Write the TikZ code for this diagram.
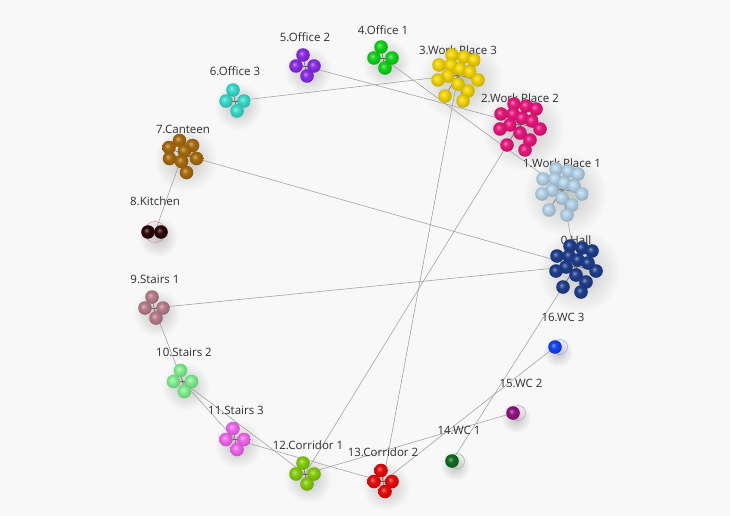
\documentclass[tikz,border=0pt]{standalone}
\usepackage{fontspec}
\setmainfont{Open Sans}
\usepackage{tikz}

\definecolor{bgc}{HTML}{F8F8F8}
\definecolor{hallc}{HTML}{1F3E8C}
\definecolor{wponec}{HTML}{B4D2E8}
\definecolor{wptwoc}{HTML}{E8177D}
\definecolor{wpthreec}{HTML}{F2D300}
\definecolor{officeonec}{HTML}{10D418}
\definecolor{officetwoc}{HTML}{8A2BE8}
\definecolor{officethreec}{HTML}{36DCCB}
\definecolor{canteenc}{HTML}{A86A0C}
\definecolor{kitchenc}{HTML}{2A0509}
\definecolor{stairsonec}{HTML}{B87C8A}
\definecolor{stairstwoc}{HTML}{7FF08E}
\definecolor{stairsthreec}{HTML}{F266EE}
\definecolor{corridoronec}{HTML}{84CC08}
\definecolor{corridortwoc}{HTML}{E80A0A}
\definecolor{wconec}{HTML}{0E6E22}
\definecolor{wctwoc}{HTML}{8E1282}
\definecolor{wcthreec}{HTML}{1442F5}
\colorlet{ballc}{red}
\pgfdeclareradialshading[ballc]{orb}{\pgfpoint{-7bp}{7bp}}{color(0bp)=(ballc!55!white); color(11bp)=(ballc); color(27bp)=(ballc!82!black); color(50bp)=(ballc!82!black)}

% ball offsets of the groups
\newcommand{\bigpat}{-6/-20,6/-18,16/-15,-19/-10,-7/-10,2/-6,12/-3,-10/1,-20/5,20/5,0/9,10/16,-13/21,5/26}
\newcommand{\canpat}{-3/-14,10/-9,-13.5/-7,2/-3.5,-13/4,14/4,-1/7,4/18}
\newcommand{\quadpat}{-2/-11,-9/0,9/0,2/10}
\newcommand{\halo}[2]{\shade[inner color=black!24,outer color=bgc] ([shift={(3,5)}]#1) circle (#2);}
\newcommand{\orb}[3]{\colorlet{ballc}{#2}\shade[shading=orb] (#1) circle (#3);}
\newcommand{\balls}[3]{%
  \foreach \dx/\dy in #3 {\draw[spoke] (#1) -- ([shift={(\dx,\dy)}]#1);}
  \foreach \dx/\dy in #3 {\orb{[shift={(\dx,\dy)}]#1}{#2}{6.8}}}

\begin{document}
\begin{tikzpicture}[x=1pt,y=-1pt,font=\fontsize{11.5}{13}\selectfont,
  lbl/.style={text=black!82,inner sep=0pt},
  link/.style={draw=black!38,line width=.55pt},
  spoke/.style={draw=black!60,line width=.5pt},
  ring/.style={line width=.45pt}]
\fill[bgc] (0,0) rectangle (730,516);
% group centres
\coordinate (hall) at (576,266);
\coordinate (wpone) at (562,189);
\coordinate (wptwo) at (520,124);
\coordinate (wpthree) at (458,75);
\coordinate (officeone) at (383,58);
\coordinate (officetwo) at (305,66);
\coordinate (officethree) at (235,101);
\coordinate (canteen) at (182.5,154.5);
\coordinate (kitchen) at (155,232);
\coordinate (stairsone) at (154,308);
\coordinate (stairstwo) at (182.5,381.5);
\coordinate (stairsthree) at (235,439.5);
\coordinate (corridorone) at (305,474);
\coordinate (corridortwo) at (383,481.5);
\coordinate (wcone) at (452,461);
\coordinate (wctwo) at (513,413);
\coordinate (wcthree) at (555,347);
% shadows
\foreach \c in {hall,wpone,wptwo,wpthree} {\halo{\c}{42}}
\halo{canteen}{32}
\foreach \c in {officeone,officetwo,officethree,stairsone,stairstwo,stairsthree,corridorone,corridortwo} {\halo{\c}{24}}
\halo{kitchen}{20}
\foreach \c in {wcone,wctwo,wcthree} {\halo{\c}{15}}
% links
\foreach \a/\b in {hall/wpone,hall/canteen,hall/stairsone,hall/wcone,officeone/wpone,
  officetwo/wptwo,officethree/wpthree,wpthree/corridortwo,wptwo/corridorone,canteen/kitchen,
  stairsone/stairstwo,stairstwo/stairsthree,stairstwo/corridorone,stairsthree/corridortwo,
  corridorone/wctwo,corridortwo/wcthree}
  \draw[link] (\a) -- (\b);
% labels
\node[lbl] (hall-l) at (576,240) {0.Hall};
\node[lbl] (wpone-l) at (562,163) {1.Work Place 1};
\node[lbl] (wptwo-l) at (520,98) {2.Work Place 2};
\node[lbl] (wpthree-l) at (458,50) {3.Work Place 3};
\node[lbl] (officeone-l) at (383,30) {4.Office 1};
\node[lbl] (officetwo-l) at (305,37) {5.Office 2};
\node[lbl] (officethree-l) at (235,71) {6.Office 3};
\node[lbl] (canteen-l) at (183,129) {7.Canteen};
\node[lbl] (kitchen-l) at (155,201) {8.Kitchen};
\node[lbl] (stairsone-l) at (155,279) {9.Stairs 1};
\node[lbl] (stairstwo-l) at (184,352) {10.Stairs 2};
\node[lbl] (stairsthree-l) at (236,410) {11.Stairs 3};
\node[lbl] (corridorone-l) at (308,445) {12.Corridor 1};
\node[lbl] (corridortwo-l) at (383,452) {13.Corridor 2};
\node[lbl] (wcone-l) at (459,430) {14.WC 1};
\node[lbl] (wctwo-l) at (521,383) {15.WC 2};
\node[lbl] (wcthree-l) at (563,317) {16.WC 3};
% groups
\balls{hall}{hallc}{\bigpat}
\balls{wpone}{wponec}{\bigpat}
\balls{wptwo}{wptwoc}{\bigpat}
\balls{wpthree}{wpthreec}{\bigpat}
\balls{canteen}{canteenc}{\canpat}
\balls{officeone}{officeonec}{\quadpat}
\balls{officetwo}{officetwoc}{\quadpat}
\balls{officethree}{officethreec}{\quadpat}
\balls{stairsone}{stairsonec}{\quadpat}
\balls{stairstwo}{stairstwoc}{\quadpat}
\balls{stairsthree}{stairsthreec}{\quadpat}
\balls{corridorone}{corridoronec}{\quadpat}
\balls{corridortwo}{corridortwoc}{\quadpat}
\draw[ring,draw=wptwoc!60] (kitchen) circle (10.5);
\balls{kitchen}{kitchenc}{{-7/0,6/0}}
\draw[ring,draw=wconec!50] ([xshift=5]wcone) circle (7.5);
\orb{wcone}{wconec}{6.8}
\draw[ring,draw=wctwoc!50] ([xshift=5]wctwo) circle (7.5);
\orb{wctwo}{wctwoc}{6.8}
\draw[ring,draw=wcthreec!50] ([xshift=5]wcthree) circle (7.5);
\orb{wcthree}{wcthreec}{6.8}
\end{tikzpicture}
\end{document}
